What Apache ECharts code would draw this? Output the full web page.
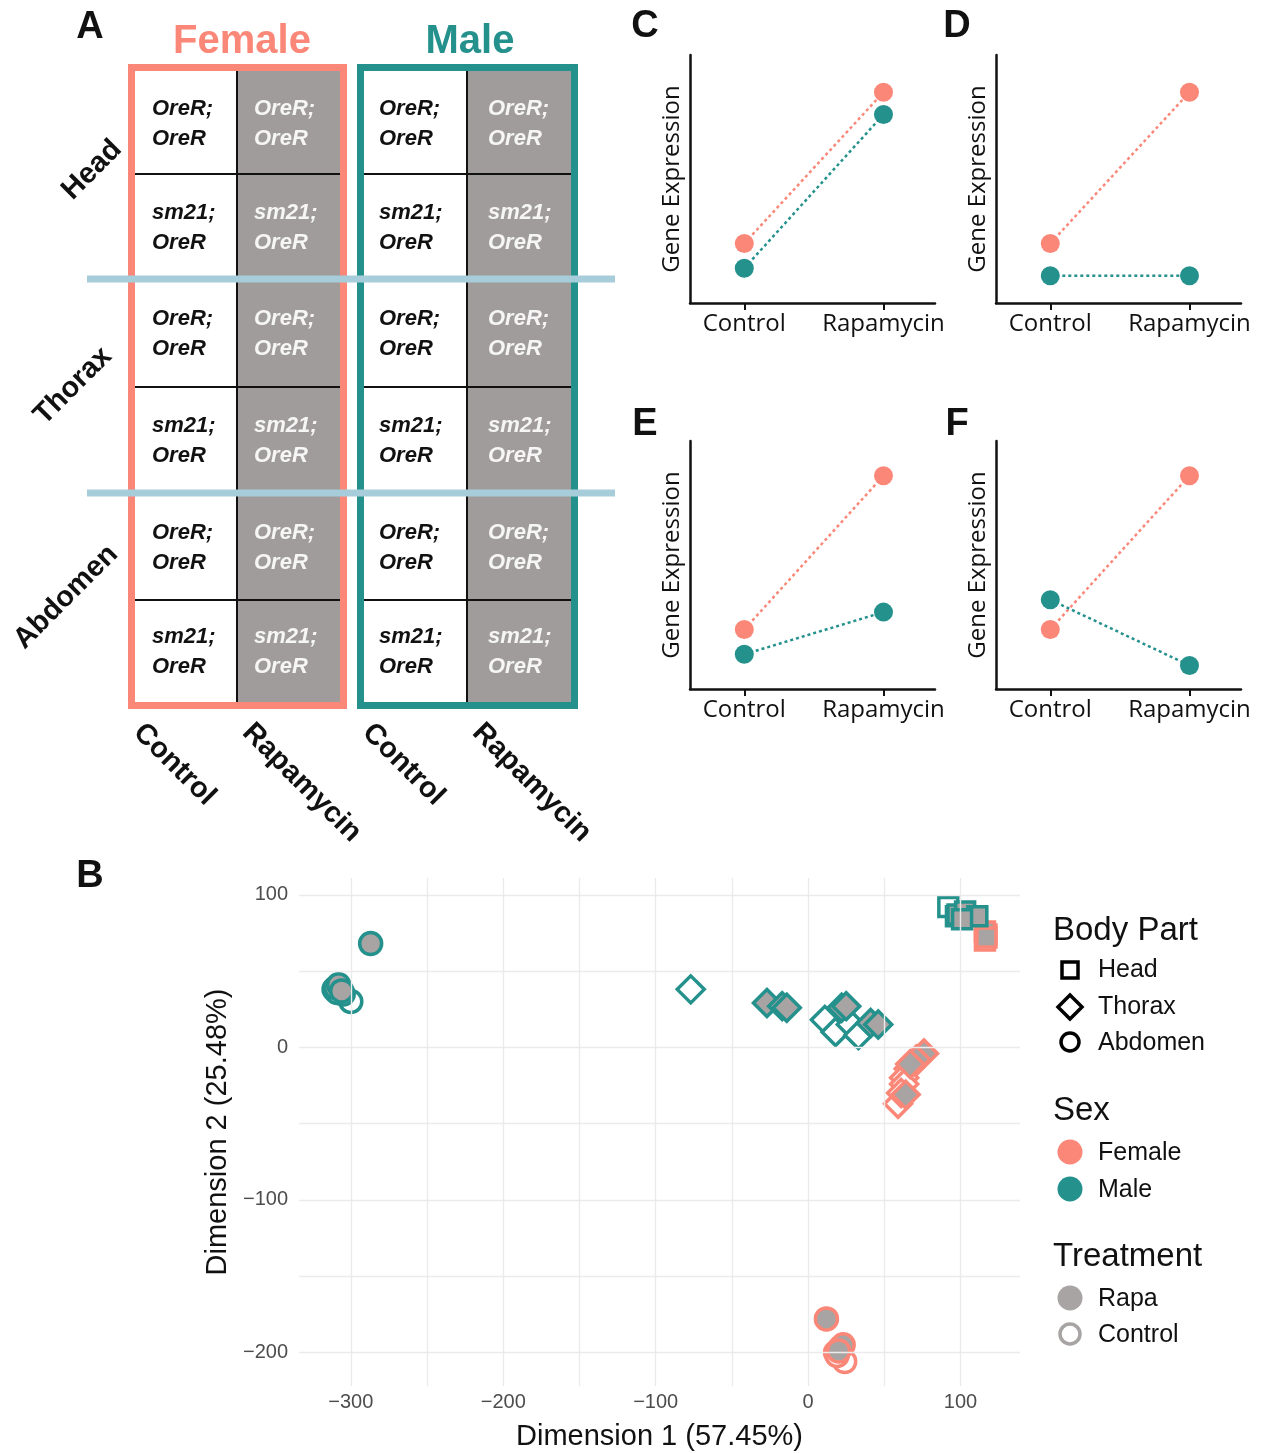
<!DOCTYPE html>
<html>
<head>
<meta charset="utf-8">
<script src="https://cdn.jsdelivr.net/npm/echarts@6/dist/echarts.min.js"></script>
<style>
  html, body { margin: 0; padding: 0; background: #ffffff; }
  #chart { width: 1266px; height: 1453px; }
</style>
</head>
<body>
<div id="chart"></div>
<script>
// ---------- data ----------
// Panel A: experimental design
const sexes = ['Female', 'Male'];
const treatments = ['Control', 'Rapamycin'];
const bodyParts = ['Head', 'Thorax', 'Abdomen'];
const genotypes = ['OreR;\nOreR', 'sm21;\nOreR'];

// Panels C–F: schematic expression patterns (Control, Rapamycin)
const conditions = ['Control', 'Rapamycin'];
const cFemale = [2.4, 8.5], cMale = [1.4, 7.6];
const dFemale = [2.4, 8.5], dMale = [1.1, 1.1];
const eFemale = [2.4, 8.6], eMale = [1.4, 3.1];
const fFemale = [2.4, 8.6], fMale = [3.6, 0.95];

// Panel B: MDS coordinates [Dimension 1, Dimension 2]
const headFemaleControl = [[116, 70], [117, 74]];
const headFemaleRapa = [[116, 76], [117, 72]];
const headMaleControl = [[92, 92], [97, 86]];
const headMaleRapa = [[98, 87], [103, 89], [111, 86], [101, 84]];
const thoraxFemaleControl = [[66, -14], [63, -20], [63, -24], [59, -37], [61, -30]];
const thoraxFemaleRapa = [[76, -4], [71, -8], [67, -11], [64, -31]];
const thoraxMaleControl = [[-77, 38], [11, 18], [18, 10], [28, 15], [33, 8]];
const thoraxMaleRapa = [[-27, 29], [-17, 27], [-14, 26], [22, 26], [25, 27], [41, 16], [46, 15]];
const abdomenFemaleControl = [[18, -200], [22, -203], [24, -206], [19, -202]];
const abdomenFemaleRapa = [[12, -178], [21, -197], [23, -195], [20, -199]];
const abdomenMaleControl = [[-300, 30], [-305, 35], [-311, 38], [-309, 36]];
const abdomenMaleRapa = [[-287, 68], [-310, 39], [-308, 41], [-306, 37]];

const xTicks = [-300, -200, -100, 0, 100];
const yTicks = [-200, -100, 0, 100];
const xGrid = [-300, -250, -200, -150, -100, -50, 0, 50, 100];
const yGrid = [-200, -150, -100, -50, 0, 50, 100];

// ---------- styles ----------
const FEMALE = '#FA8778';
const MALE = '#24918C';
const RAPA = '#A8A4A3';
const CELL_GRAY = '#A09C9B';
const SEP_BLUE = '#A7CDDA';
const SANS = '"Liberation Sans", Arial, sans-serif';
const SMALL_FONT = '"Open Sans", "Noto Sans", sans-serif';
const sexColor = [FEMALE, MALE];
const minusSign = v => String(v).replace('-', '\u2212');

// ---------- panel A (design grid) ----------
const graphics = [];
const colX = [[135, 237, 340], [364, 467, 571]];   // inner left, treatment divider, inner right
const boxOuter = [[131.5, 212], [360.5, 214]];     // border centre-line x and width
const rowY = [71, 174, 279, 387, 493, 600, 702];
const textX = [[152, 254], [379, 488]];
const titleX = [242, 470];

sexes.forEach((sex, s) => {
  graphics.push({ type: 'rect', shape: { x: colX[s][1], y: rowY[0], width: colX[s][2] - colX[s][1], height: rowY[6] - rowY[0] }, style: { fill: CELL_GRAY } });
  graphics.push({ type: 'line', shape: { x1: colX[s][1], y1: rowY[0], x2: colX[s][1], y2: rowY[6] }, style: { stroke: '#111', lineWidth: 2 } });
  [1, 3, 5].forEach(r => {
    graphics.push({ type: 'line', shape: { x1: colX[s][0], y1: rowY[r], x2: colX[s][2], y2: rowY[r] }, style: { stroke: '#111', lineWidth: 2 } });
  });
  bodyParts.forEach((bp, b) => {
    genotypes.forEach((g, gi) => {
      const row = b * 2 + gi;
      treatments.forEach((t, ti) => {
        graphics.push({
          type: 'text', x: textX[s][ti], y: (rowY[row] + rowY[row + 1]) / 2 + 1,
          style: { text: g, fill: ti === 0 ? '#111111' : '#F6F6F6', fontSize: 22, fontWeight: 'bold', fontStyle: 'italic', fontFamily: SANS, lineHeight: 30, align: 'left', verticalAlign: 'middle' }
        });
      });
    });
  });
  graphics.push({ type: 'rect', shape: { x: boxOuter[s][0], y: 67.5, width: boxOuter[s][1], height: 638 }, style: { fill: null, stroke: sexColor[s], lineWidth: 7 } });
  graphics.push({ type: 'text', x: titleX[s], y: 42, style: { text: sex, fill: sexColor[s], fontSize: 40, fontWeight: 'bold', fontFamily: SANS, align: 'center', verticalAlign: 'middle' } });
});
[2, 4].forEach(r => {
  graphics.push({ type: 'line', shape: { x1: 87, y1: rowY[r], x2: 615, y2: rowY[r] }, style: { stroke: SEP_BLUE, lineWidth: 7 } });
});
const rowLabelPos = [[92, 170], [73, 386], [66, 597]];
bodyParts.forEach((bp, b) => {
  graphics.push({ type: 'text', x: rowLabelPos[b][0], y: rowLabelPos[b][1], rotation: Math.PI / 4, style: { text: bp, fill: '#111', fontSize: 29, fontWeight: 'bold', fontFamily: SANS, align: 'center', verticalAlign: 'middle' } });
});
const colLabelX = [[138, 247], [367, 477]];
sexes.forEach((sex, s) => {
  treatments.forEach((t, ti) => {
    graphics.push({ type: 'text', x: colLabelX[s][ti], y: 728, rotation: -Math.PI / 4, style: { text: t, fill: '#111', fontSize: 29, fontWeight: 'bold', fontFamily: SANS, align: 'left', verticalAlign: 'middle' } });
  });
});

// panel letters
[['A', 90, 28], ['B', 90, 877], ['C', 645, 27], ['D', 957, 27], ['E', 645, 425], ['F', 957, 425]].forEach(([l, x, y]) => {
  graphics.push({ type: 'text', x, y, style: { text: l, fill: '#111', fontSize: 38, fontWeight: 'bold', fontFamily: SANS, align: 'center', verticalAlign: 'middle' } });
});

// ---------- legend for panel B ----------
const legendTitle = (t, y) => ({ type: 'text', x: 1053, y, style: { text: t, fill: '#111', fontSize: 33, fontFamily: SANS, align: 'left', verticalAlign: 'middle' } });
const legendLabel = (t, y) => ({ type: 'text', x: 1098, y, style: { text: t, fill: '#111', fontSize: 25, fontFamily: SANS, align: 'left', verticalAlign: 'middle' } });
graphics.push(legendTitle('Body Part', 931));
graphics.push({ type: 'rect', shape: { x: 1062, y: 962, width: 16, height: 16 }, style: { fill: '#fff', stroke: '#000', lineWidth: 3.5 } });
graphics.push(legendLabel('Head', 970));
graphics.push({ type: 'polygon', shape: { points: [[1070, 995], [1082, 1007], [1070, 1019], [1058, 1007]] }, style: { fill: '#fff', stroke: '#000', lineWidth: 3.5 } });
graphics.push(legendLabel('Thorax', 1007));
graphics.push({ type: 'circle', shape: { cx: 1070, cy: 1042, r: 9 }, style: { fill: '#fff', stroke: '#000', lineWidth: 3.5 } });
graphics.push(legendLabel('Abdomen', 1043));
graphics.push(legendTitle('Sex', 1111));
graphics.push({ type: 'circle', shape: { cx: 1070, cy: 1152, r: 12.5 }, style: { fill: FEMALE } });
graphics.push(legendLabel('Female', 1153));
graphics.push({ type: 'circle', shape: { cx: 1070, cy: 1189, r: 12.5 }, style: { fill: MALE } });
graphics.push(legendLabel('Male', 1190));
graphics.push(legendTitle('Treatment', 1257));
graphics.push({ type: 'circle', shape: { cx: 1070, cy: 1298, r: 12.5 }, style: { fill: RAPA } });
graphics.push(legendLabel('Rapa', 1299));
graphics.push({ type: 'circle', shape: { cx: 1070, cy: 1334, r: 10 }, style: { fill: '#fff', stroke: RAPA, lineWidth: 3.5 } });
graphics.push(legendLabel('Control', 1335));

// ---------- panels C–F ----------
const smallGrids = [
  { left: 690, top: 55 }, { left: 996, top: 55 },
  { left: 690, top: 441 }, { left: 996, top: 441 }
];
const smallData = [[cFemale, cMale], [dFemale, dMale], [eFemale, eMale], [fFemale, fMale]];

const grids = smallGrids.map(g => ({ left: g.left, top: g.top, width: 245, height: 248 }));
grids.push({ left: 299, top: 878, width: 721, height: 508 });

const xAxes = smallGrids.map((g, i) => ({
  gridIndex: i, type: 'value', min: -0.39, max: 1.37,
  axisLine: { show: true, onZero: false, lineStyle: { color: '#111', width: 2.5 } },
  axisTick: { show: true, customValues: [0, 1], length: 7, lineStyle: { color: '#111', width: 2 } },
  axisLabel: { customValues: [0, 1], formatter: v => conditions[Math.round(v)], fontSize: 24, color: '#111', fontFamily: SMALL_FONT, margin: 9 },
  splitLine: { show: false }
}));
const yAxes = smallGrids.map((g, i) => ({
  gridIndex: i, type: 'value', min: 0, max: 10,
  axisLine: { show: true, onZero: false, lineStyle: { color: '#111', width: 2.5 } },
  axisTick: { show: false }, axisLabel: { show: false }, splitLine: { show: false },
  name: 'Gene Expression', nameLocation: 'middle', nameRotate: 90, nameGap: 6,
  nameTextStyle: { fontSize: 24, color: '#111', fontFamily: SMALL_FONT }
}));

xAxes.push({
  gridIndex: 4, type: 'value', min: -334, max: 139,
  axisLine: { show: false }, axisTick: { show: false }, splitLine: { show: false },
  axisLabel: { customValues: xTicks, formatter: minusSign, fontSize: 20, color: '#4D4D4D', fontFamily: SANS, margin: 6 },
  name: 'Dimension 1 (57.45%)', nameLocation: 'middle', nameGap: 36,
  nameTextStyle: { fontSize: 29, color: '#111', fontFamily: SANS }
});
yAxes.push({
  gridIndex: 4, type: 'value', min: -222, max: 111,
  axisLine: { show: false }, axisTick: { show: false }, splitLine: { show: false },
  axisLabel: { customValues: yTicks, formatter: minusSign, fontSize: 20, color: '#4D4D4D', fontFamily: SANS, margin: 11 },
  name: 'Dimension 2 (25.48%)', nameLocation: 'middle', nameGap: 64,
  nameTextStyle: { fontSize: 29, color: '#111', fontFamily: SANS }
});

const series = [];
smallData.forEach((pair, i) => {
  pair.forEach((vals, s) => {
    series.push({
      type: 'line', xAxisIndex: i, yAxisIndex: i,
      data: vals.map((v, k) => [k, v]),
      symbol: 'circle', symbolSize: 19, showSymbol: true,
      itemStyle: { color: sexColor[s] },
      lineStyle: { color: sexColor[s], width: 2.5, type: [3, 3] },
      emphasis: { disabled: true }, silent: true
    });
  });
});

// panel B background grid
series.push({
  type: 'scatter', xAxisIndex: 4, yAxisIndex: 4, data: [], z: 1, silent: true,
  markLine: {
    silent: true, symbol: 'none', label: { show: false }, animation: false,
    lineStyle: { color: '#EBEBEB', width: 1.4, type: 'solid' },
    emphasis: { disabled: true },
    data: xGrid.map(v => ({ xAxis: v })).concat(yGrid.map(v => ({ yAxis: v })))
  }
});

const shapeOf = { Head: ['rect', 19], Thorax: ['diamond', 27], Abdomen: ['circle', 22] };
const groups = [
  ['Abdomen', 1, 0, abdomenMaleControl], ['Abdomen', 1, 1, abdomenMaleRapa],
  ['Abdomen', 0, 0, abdomenFemaleControl], ['Abdomen', 0, 1, abdomenFemaleRapa],
  ['Thorax', 1, 0, thoraxMaleControl], ['Thorax', 1, 1, thoraxMaleRapa],
  ['Thorax', 0, 0, thoraxFemaleControl], ['Thorax', 0, 1, thoraxFemaleRapa],
  ['Head', 0, 0, headFemaleControl], ['Head', 0, 1, headFemaleRapa],
  ['Head', 1, 0, headMaleControl], ['Head', 1, 1, headMaleRapa]
];
groups.forEach(([part, s, t, data]) => {
  series.push({
    type: 'scatter', xAxisIndex: 4, yAxisIndex: 4, z: 3,
    name: part + ' ' + sexes[s] + ' ' + treatments[t],
    symbol: shapeOf[part][0], symbolSize: shapeOf[part][1],
    itemStyle: { color: t === 1 ? RAPA : '#FFFFFF', borderColor: sexColor[s], borderWidth: 3.5, opacity: 1 },
    emphasis: { disabled: true }, silent: true,
    data
  });
});

const chart = echarts.init(document.getElementById('chart'), null, { renderer: 'canvas' });
chart.setOption({
  animation: false,
  backgroundColor: '#ffffff',
  grid: grids,
  xAxis: xAxes,
  yAxis: yAxes,
  series,
  graphic: { elements: graphics }
});
</script>
</body>
</html>
